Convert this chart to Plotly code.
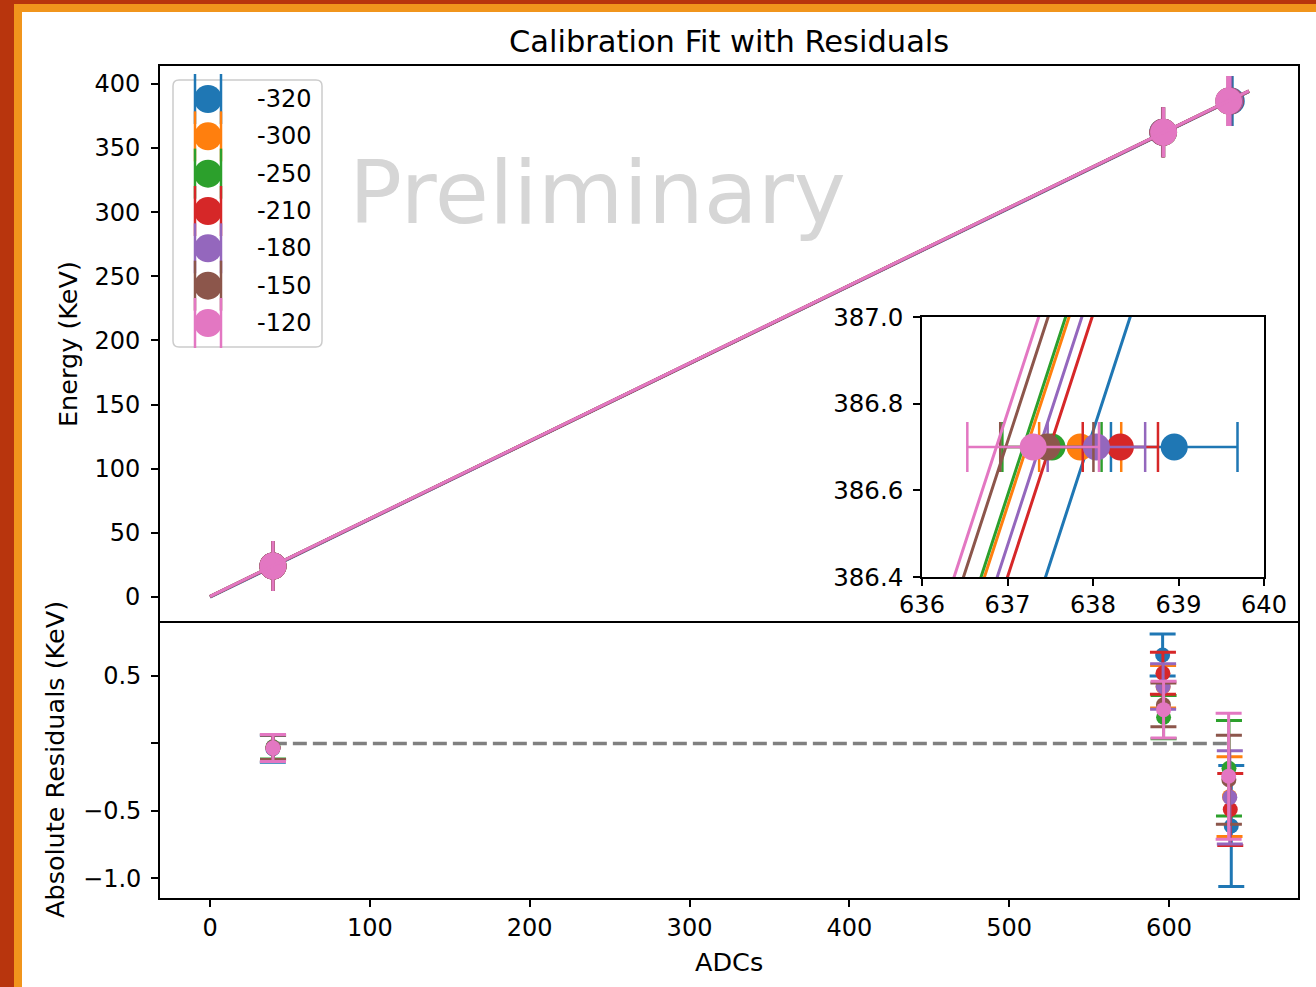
import plotly.graph_objects as go

W, H = 1316, 987


def px(x):
    return x / W


def py(y):
    return 1 - y / H


# ---------------- data ----------------
series_labels = ["-320", "-300", "-250", "-210", "-180", "-150", "-120"]
colors = ["#1f77b4", "#ff7f0e", "#2ca02c", "#d62728", "#9467bd", "#8c564b", "#e377c2"]
energies = [24.2, 362.3, 386.7]

adc_peak1 = [39.3, 39.4, 39.4, 39.35, 39.4, 39.45, 39.4]
adc_peak2 = [596.0, 596.3, 596.6, 596.2, 596.3, 596.5, 596.6]
adc_peak3 = [638.95, 637.85, 637.52, 638.32, 638.04, 637.46, 637.30]

adc_err_peak1 = [0.165, 0.157, 0.149, 0.165, 0.157, 0.149, 0.165]
adc_err_peak2 = [0.256, 0.259, 0.264, 0.256, 0.279, 0.267, 0.347]
adc_err_peak3 = [0.74, 0.48, 0.58, 0.44, 0.57, 0.545, 0.77]

res_peak1 = [-0.04, -0.03, -0.025, -0.035, -0.03, -0.03, -0.035]
res_peak2 = [0.655, 0.42, 0.194, 0.52, 0.422, 0.286, 0.25]
res_peak3 = [-0.612, -0.395, -0.185, -0.49, -0.40, -0.27, -0.243]

res_err_peak1 = [0.10, 0.095, 0.09, 0.10, 0.095, 0.09, 0.10]
res_err_peak2 = [0.155, 0.157, 0.16, 0.155, 0.169, 0.162, 0.21]
res_err_peak3 = [0.448, 0.295, 0.354, 0.267, 0.345, 0.33, 0.467]

fit_slope = [0.6063, 0.6063, 0.6063, 0.6063, 0.6063, 0.6063, 0.6063]
fit_intercept = [-0.083, 0.3505, 0.3747, 0.1868, 0.2595, 0.4990, 0.5657]
fit_x_range = [0, 650]

main_yticks = [0, 50, 100, 150, 200, 250, 300, 350, 400]
res_xticks = [0, 100, 200, 300, 400, 500, 600]
res_yticks = [-1.0, -0.5, 0.0, 0.5]
res_yticktext = ["\u22121.0", "\u22120.5", "", "0.5"]
inset_xticks = [636, 637, 638, 639, 640]
inset_yticks = [386.4, 386.6, 386.8, 387.0]

FONT = "DejaVu Sans"

fig = go.Figure()

# zero line in residuals
all_adc = adc_peak1 + adc_peak2 + adc_peak3
fig.add_trace(go.Scatter(
    x=[min(all_adc), max(all_adc)], y=[0, 0], mode="lines",
    line=dict(color="#808080", width=3.5, dash="14px,6px"),
    xaxis="x2", yaxis="y2", showlegend=False, hoverinfo="skip"))

for i in range(len(series_labels)):
    c = colors[i]
    xs = [adc_peak1[i], adc_peak2[i], adc_peak3[i]]
    xe = [adc_err_peak1[i], adc_err_peak2[i], adc_err_peak3[i]]
    fy = [fit_slope[i] * x + fit_intercept[i] for x in fit_x_range]
    rs = [res_peak1[i], res_peak2[i], res_peak3[i]]
    re = [res_err_peak1[i], res_err_peak2[i], res_err_peak3[i]]

    # main panel
    fig.add_trace(go.Scatter(
        x=xs, y=energies, mode="markers",
        marker=dict(size=27, color=c, line=dict(width=0)),
        error_x=dict(type="data", array=xe, width=25, thickness=2.5, color=c),
        xaxis="x", yaxis="y", name=series_labels[i], showlegend=False))
    fig.add_trace(go.Scatter(
        x=fit_x_range, y=fy, mode="lines", line=dict(color=c, width=3),
        xaxis="x", yaxis="y", showlegend=False))

    # residual panel
    fig.add_trace(go.Scatter(
        x=xs, y=rs, mode="markers",
        marker=dict(size=15, color=c, line=dict(width=0)),
        error_y=dict(type="data", array=re, width=13, thickness=3, color=c),
        xaxis="x2", yaxis="y2", showlegend=False))

    # inset
    fig.add_trace(go.Scatter(
        x=fit_x_range, y=fy, mode="lines", line=dict(color=c, width=3),
        xaxis="x3", yaxis="y3", showlegend=False))
    fig.add_trace(go.Scatter(
        x=[adc_peak3[i]], y=[energies[2]], mode="markers",
        marker=dict(size=27, color=c, line=dict(width=0)),
        error_x=dict(type="data", array=[adc_err_peak3[i]], width=25, thickness=2.5, color=c),
        xaxis="x3", yaxis="y3", showlegend=False))

axis_common = dict(
    showgrid=False, zeroline=False, showline=True, linecolor="black",
    linewidth=1.6, mirror=True, ticks="outside", ticklen=7, tickwidth=1.6,
    tickcolor="black", tickfont=dict(family=FONT, size=24, color="black"),
    automargin=False,
)

xdom = [px(160), px(1298)]
xrange_main = [-31.3, 680.7]

fig.update_layout(
    width=W, height=H,
    margin=dict(l=0, r=0, t=0, b=0),
    paper_bgcolor="white", plot_bgcolor="white",
    font=dict(family=FONT, color="black"),
    xaxis=dict(axis_common, domain=xdom, range=xrange_main, anchor="y",
               ticks="", showticklabels=False),
    yaxis=dict(axis_common, domain=[py(621), py(66)], range=[-18.7, 414.0],
               anchor="x", tickvals=main_yticks, ticklabelstandoff=6),
    xaxis2=dict(axis_common, domain=xdom, range=xrange_main, anchor="y2",
                mirror=False, tickvals=res_xticks, ticklabelstandoff=0),
    yaxis2=dict(axis_common, domain=[py(898), py(621)], range=[-1.146, 0.907],
                anchor="x2", tickvals=res_yticks, ticktext=res_yticktext,
                ticklabelstandoff=5),
    xaxis3=dict(axis_common, domain=[px(922), px(1264)], range=[636, 640],
                anchor="y3", tickvals=inset_xticks, ticklabelstandoff=-2),
    yaxis3=dict(axis_common, domain=[py(577), py(317)], range=[386.4, 387.0],
                anchor="x3", tickvals=inset_yticks, tickformat=".1f",
                ticklabelstandoff=5, tickfont=dict(family=FONT, size=24.5, color="black")),
)

annotations = [
    dict(text="Calibration Fit with Residuals", x=px(729), y=py(41),
         xref="paper", yref="paper", showarrow=False, xanchor="center",
         yanchor="middle", font=dict(family=FONT, size=30.5, color="black")),
    dict(text="Energy (KeV)", x=px(68), y=py(344), xref="paper", yref="paper",
         showarrow=False, textangle=-90, xanchor="center", yanchor="middle",
         font=dict(family=FONT, size=25.5, color="black")),
    dict(text="Absolute Residuals (KeV)", x=px(55), y=py(760), xref="paper",
         yref="paper", showarrow=False, textangle=-90, xanchor="center",
         yanchor="middle", font=dict(family=FONT, size=25.5, color="black")),
    dict(text="ADCs", x=px(729), y=py(962), xref="paper", yref="paper",
         showarrow=False, xanchor="center", yanchor="middle",
         font=dict(family=FONT, size=25.5, color="black")),
    dict(text="Preliminary", x=px(597), y=py(192), xref="paper", yref="paper",
         showarrow=False, xanchor="center", yanchor="middle",
         font=dict(family=FONT, size=88, color="#d6d6d6")),
]

shapes = []
# frame strips (left and top)
DARK = "#b8350d"
ORANGE = "#f1951c"
shapes.append(dict(type="rect", xref="paper", yref="paper", x0=0, x1=px(14),
                   y0=0, y1=1, fillcolor=DARK, line=dict(width=0), layer="above"))
shapes.append(dict(type="rect", xref="paper", yref="paper", x0=px(14), x1=1,
                   y0=py(4), y1=1, fillcolor=DARK, line=dict(width=0), layer="above"))
shapes.append(dict(type="rect", xref="paper", yref="paper", x0=px(14), x1=px(22),
                   y0=0, y1=py(4), fillcolor=ORANGE, line=dict(width=0), layer="above"))
shapes.append(dict(type="rect", xref="paper", yref="paper", x0=px(22), x1=1,
                   y0=py(12), y1=py(4), fillcolor=ORANGE, line=dict(width=0), layer="above"))

# manual legend box
lx0, ly0, lx1, ly1, r = 173, 80, 322, 347, 6
path = (f"M {px(lx0 + r)},{py(ly0)} L {px(lx1 - r)},{py(ly0)} "
        f"Q {px(lx1)},{py(ly0)} {px(lx1)},{py(ly0 + r)} "
        f"L {px(lx1)},{py(ly1 - r)} Q {px(lx1)},{py(ly1)} {px(lx1 - r)},{py(ly1)} "
        f"L {px(lx0 + r)},{py(ly1)} Q {px(lx0)},{py(ly1)} {px(lx0)},{py(ly1 - r)} "
        f"L {px(lx0)},{py(ly0 + r)} Q {px(lx0)},{py(ly0)} {px(lx0 + r)},{py(ly0)} Z")
shapes.append(dict(type="path", xref="paper", yref="paper", path=path,
                   fillcolor="rgba(255,255,255,0.8)",
                   line=dict(color="#cccccc", width=1.5), layer="above"))

row_y0, row_dy = 99, 37.33
mx = 208
for i, lab in enumerate(series_labels):
    cy = row_y0 + row_dy * i
    for cx in (195, 221):
        shapes.append(dict(type="line", xref="paper", yref="paper",
                           x0=px(cx), x1=px(cx), y0=py(cy - 25), y1=py(cy + 25),
                           line=dict(color=colors[i], width=2.5), layer="above"))
    shapes.append(dict(type="line", xref="paper", yref="paper",
                       x0=px(195), x1=px(221), y0=py(cy), y1=py(cy),
                       line=dict(color=colors[i], width=2.5), layer="above"))
for i, lab in enumerate(series_labels):
    cy = row_y0 + row_dy * i
    shapes.append(dict(type="circle", xref="paper", yref="paper",
                       x0=px(mx - 14), x1=px(mx + 14), y0=py(cy + 14), y1=py(cy - 14),
                       fillcolor=colors[i], line=dict(width=0), layer="above"))
    annotations.append(dict(text=lab, x=px(255), y=py(cy), xref="paper", yref="paper",
                            showarrow=False, xanchor="left", yanchor="middle",
                            font=dict(family=FONT, size=24, color="black")))

fig.update_layout(shapes=shapes, annotations=annotations)

fig.write_html("out.html", config={"displayModeBar": False},
               post_script="document.body.style.margin='0';document.body.style.overflow='hidden';")
